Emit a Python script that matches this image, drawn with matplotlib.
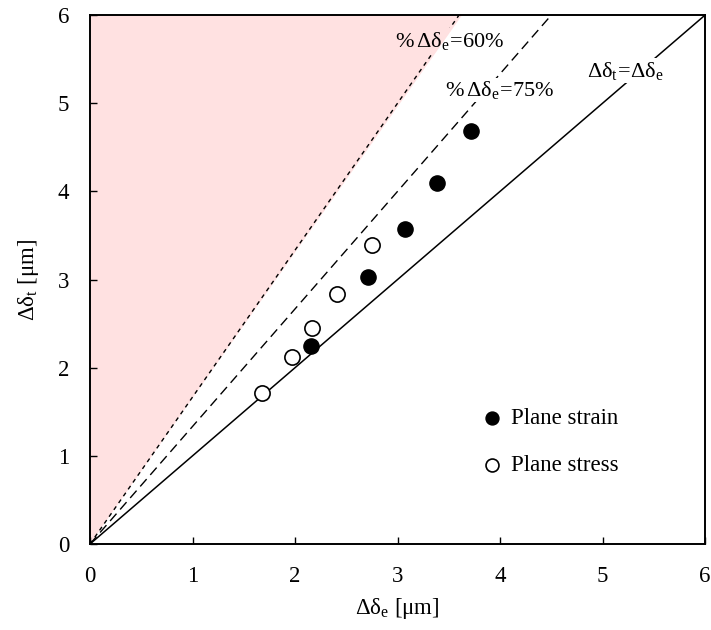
import matplotlib
matplotlib.use("Agg")
import matplotlib.pyplot as plt
from matplotlib.patches import Rectangle
import numpy as np

plt.rcParams['font.family'] = ['Liberation Serif', 'DejaVu Serif']
plt.rcParams['mathtext.fontset'] = 'custom'
plt.rcParams['mathtext.rm'] = 'Liberation Serif'
plt.rcParams['mathtext.it'] = 'Liberation Serif:italic'

# data
strain_x = [2.16, 2.71, 3.07, 3.39, 3.72]
strain_y = [2.25, 3.03, 3.57, 4.10, 4.68]
stress_x = [1.68, 1.97, 2.17, 2.41, 2.75]
stress_y = [1.71, 2.12, 2.45, 2.84, 3.39]
ratios = [1.0, 0.75, 0.60]
ticks = [0, 1, 2, 3, 4, 5, 6]

fig = plt.figure(figsize=(7.11, 6.30), dpi=100)
ax = fig.add_axes([0.1266, 0.1365, 0.8650, 0.8395])
ax.set_xlim(0, 6)
ax.set_ylim(0, 6)

PINK = '#ffe1e1'
xx = np.array([0, 6])
ax.fill_between(xx, xx / 0.605, 6.5, color=PINK, lw=0, zorder=1)

ax.plot(xx, xx / ratios[0], color='black', lw=1.1, zorder=2)
ax.plot(xx, xx / ratios[1], color='black', lw=1.0, ls=(0, (7, 4)), zorder=2)
ax.plot(xx, xx / ratios[2], color='black', lw=1.0, ls=(0, (3, 3)), zorder=2)

ax.scatter(strain_x, strain_y, s=120, color='black', zorder=5, label='Plane strain')
ax.scatter(stress_x, stress_y, s=120, facecolor='white', edgecolor='black', lw=1.2,
           zorder=5, label='Plane stress')

fs = 16
labels = [
    (5.22, 5.37, r'$\mathrm{\Delta\delta_t\!=\!\Delta\delta_e}$'),
    (3.51, 5.71, r'$\mathrm{\%\,\Delta\delta_e\!=\!60\%}$'),
    (4.00, 5.15, r'$\mathrm{\%\,\Delta\delta_e\!=\!75\%}$'),
]
texts = []
for x, y, t in labels:
    tb = ax.text(x, y, t, fontsize=fs, ha='center', va='center', zorder=3, color='none',
                 bbox=dict(facecolor='white', edgecolor='none', pad=1))
    texts.append(tb)
    ax.text(x, y, t, fontsize=fs, ha='center', va='center', zorder=4)

fig.canvas.draw()
bb = texts[1].get_bbox_patch().get_window_extent()
clip = Rectangle((bb.x0, bb.y0), bb.width, bb.height, transform=None)
pink2 = ax.fill_between(xx, xx / 0.605, 6.5, color=PINK, lw=0, zorder=3.5)
pink2.set_clip_path(clip)

ax.set_xticks(ticks)
ax.set_yticks(ticks)
ax.tick_params(labelsize=16.5, direction='in', length=5, width=1.0)
ax.tick_params(axis='x', pad=15.5)
ax.tick_params(axis='y', pad=15)
ax.set_xlabel(r'$\mathrm{\Delta\delta_e}$ [μm]', fontsize=16.5, labelpad=7)
ax.set_ylabel(r'$\mathrm{\Delta\delta_t}$ [μm]', fontsize=16.5, labelpad=12)
for s in ax.spines.values():
    s.set_linewidth(1.4)

ax.legend(loc='center left', bbox_to_anchor=(0.635, 0.193), frameon=False, fontsize=16.5,
          handletextpad=0.35, handlelength=1.0, labelspacing=1.1, scatterpoints=1,
          markerscale=0.85, borderaxespad=0, borderpad=0)

fig.savefig('out.png', dpi=100)
